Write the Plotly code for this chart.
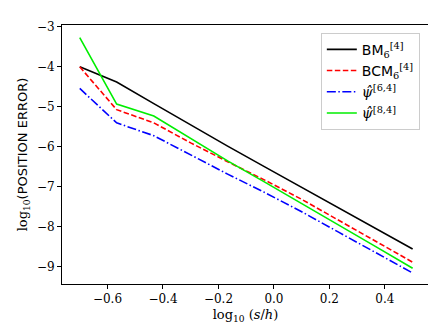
import plotly.graph_objects as go

# log10(s/h) grid and log10(position error) per method
x = [-0.7, -0.567, -0.433, -0.3, -0.167, -0.033, 0.1, 0.233, 0.367, 0.5]
bm = [-4.00, -4.38, -4.92, -5.46, -5.98, -6.50, -7.01, -7.53, -8.04, -8.55]
bcm = [-4.00, -5.07, -5.40, -5.90, -6.37, -6.83, -7.31, -7.83, -8.36, -8.88]
psi64 = [-4.54, -5.40, -5.72, -6.21, -6.68, -7.14, -7.62, -8.13, -8.65, -9.15]
psi84 = [-3.27, -4.93, -5.23, -5.80, -6.35, -6.88, -7.41, -7.95, -8.49, -9.03]

xticks = [-0.6, -0.4, -0.2, 0.0, 0.2, 0.4]
xlabels = ["−0.6", "−0.4", "−0.2", "0.0", "0.2", "0.4"]
yticks = [-9, -8, -7, -6, -5, -4, -3]
ylabels = ["−9", "−8", "−7", "−6", "−5", "−4", "−3"]

sans = "DejaVu Sans"
serif = "DejaVu Serif"

fig = go.Figure()
fig.add_trace(go.Scatter(x=x, y=bm, mode="lines", line=dict(color="black", width=1.6),
                         name=f'<span style="font-family:{sans}">BM</span><sub>6</sub><sup>[4]</sup>'))
fig.add_trace(go.Scatter(x=x, y=bcm, mode="lines", line=dict(color="red", width=1.6, dash="5.5px,2.5px"),
                         name=f'<span style="font-family:{sans}">BCM</span><sub>6</sub><sup>[4]</sup>'))
fig.add_trace(go.Scatter(x=x, y=psi64, mode="lines", line=dict(color="blue", width=1.6, dash="9px,2.5px,1.5px,2.5px"),
                         name='<i>ψ̂</i><sup>[6,4]</sup>'))
fig.add_trace(go.Scatter(x=x, y=psi84, mode="lines", line=dict(color="#00ee00", width=1.6),
                         name='<i>ψ̂</i><sup>[8,4]</sup>'))

fig.update_layout(
    width=436, height=327,
    margin=dict(l=54, r=15, t=17, b=51),
    plot_bgcolor="white", paper_bgcolor="white",
    font=dict(family=serif, size=12, color="black"),
    showlegend=True,
    legend=dict(x=0.975, y=0.97, xanchor="right", yanchor="top",
                bgcolor="white", bordercolor="#cccccc", borderwidth=1,
                font=dict(family=serif, size=14), itemwidth=30),
)
fig.update_xaxes(
    range=[-0.764, 0.559], tickvals=xticks, ticktext=xlabels,
    showgrid=False, zeroline=False, showline=True, linecolor="black", linewidth=1, mirror=True,
    ticks="outside", ticklen=4, tickcolor="black",
    title=dict(text="log<sub>10</sub> (<i>s</i>/<i>h</i>)", font=dict(family=serif, size=13), standoff=4),
)
fig.update_yaxes(
    range=[-9.425, -2.955], tickvals=yticks, ticktext=ylabels,
    showgrid=False, zeroline=False, showline=True, linecolor="black", linewidth=1, mirror=True,
    ticks="outside", ticklen=4, tickcolor="black",
    title=dict(text=f'log<sub>10</sub><span style="font-family:{sans}">(POSITION ERROR)</span>',
               font=dict(family=serif, size=13), standoff=6),
)

fig.write_html("out.html")
